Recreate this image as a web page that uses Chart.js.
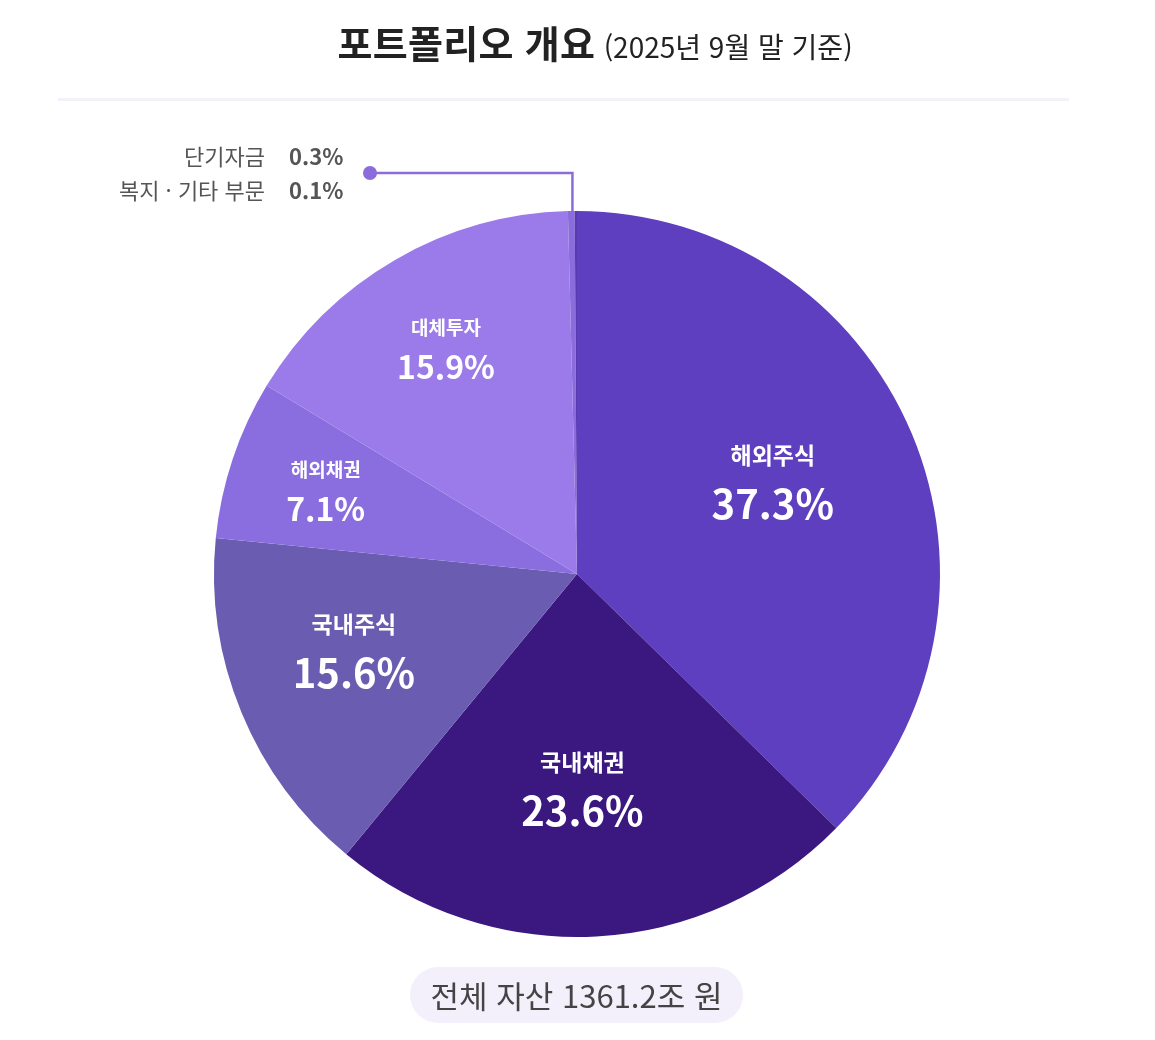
<!DOCTYPE html>
<html lang="ko">
<head>
<meta charset="utf-8">
<script src="https://cdn.jsdelivr.net/npm/chart.js@4.4.1/dist/chart.umd.min.js"></script>
<style>
  html, body { margin: 0; padding: 0; background: #fff; }
  body { width: 1155px; height: 1040px; position: relative; overflow: hidden;
         font-family: "Noto Sans CJK KR", "Noto Sans", sans-serif; }
  #wrap { position: absolute; left: 0; top: 0; width: 1155px; height: 1040px; }
  #title { position: absolute; top: 14px; left: 0; width: 1190px; text-align: center;
           color: #222; white-space: nowrap; }
  #title .main { font-size: 38px; font-weight: 700; letter-spacing: 0.3px; }
  #title .sub { font-size: 28px; font-weight: 400; letter-spacing: 0px; margin-left: 4px; }
  #sep { position: absolute; left: 58px; top: 98px; width: 1011px; height: 3px; background: #f3f1fa; }
  .note { position: absolute; font-size: 22px; color: #555; white-space: nowrap; }
  .note .n { position: absolute; right: 890px; }
  .note .v { position: absolute; left: 289px; font-weight: 700; }
  #pill { position: absolute; left: 410px; top: 967px; width: 333px; height: 56px; border-radius: 28px;
          background: #f3f0fc; color: #444; font-size: 31px; text-align: center; line-height: 56px;
          letter-spacing: 0px; }
</style>
</head>
<body>
<div id="wrap"><canvas id="c" width="1155" height="1040"></canvas></div>
<div id="title"><span class="main">포트폴리오 개요</span> <span class="sub">(2025년 9월 말 기준)</span></div>
<div id="sep"></div>
<div id="pill"></div>
<script>
const categories = ["해외주식", "국내채권", "국내주식", "해외채권", "대체투자", "단기자금", "복지 · 기타 부문"];
const shares = [37.3, 23.6, 15.6, 7.1, 15.9, 0.3, 0.1];
const sliceColors = ["#5d3fbf", "#3a1880", "#6a5db1", "#8a6ee0", "#9b7be9", "#8a6cdc", "#5a38b4"];
const totalAssetsLabel = "전체 자산 1361.2조 원";
const smallSliceIndexes = [5, 6];

document.getElementById('pill').textContent = totalAssetsLabel;
smallSliceIndexes.forEach((idx, k) => {
  const row = document.createElement('div');
  row.className = 'note';
  row.style.top = (139 + k * 34) + 'px';
  row.style.left = '0px';
  row.style.width = '1155px';
  const n = document.createElement('span'); n.className = 'n'; n.textContent = categories[idx];
  const v = document.createElement('span'); v.className = 'v'; v.textContent = shares[idx].toFixed(1) + '%';
  row.appendChild(n); row.appendChild(v);
  document.body.appendChild(row);
});

// label style per slice (radius fraction, offsets, name font px, value font px)
const labelStyle = [
  { r: 0.60, ox: -5, oy: -10, nf: 23, vf: 40 },
  { r: 0.59, ox: -6, oy: -1, nf: 23, vf: 40 },
  { r: 0.65, ox: -5, oy: -15, nf: 23, vf: 40 },
  { r: 0.73, ox: 0, oy: 0, nf: 19, vf: 32 },
  { r: 0.72, ox: 0, oy: 0, nf: 19, vf: 32 }
];

const sliceLabels = {
  id: 'sliceLabels',
  afterDatasetsDraw(chart) {
    const ctx = chart.ctx;
    const meta = chart.getDatasetMeta(0);
    ctx.save();
    meta.data.forEach((arc, i) => {
      const st = labelStyle[i];
      if (!st) return;
      const p = arc.getProps(['x', 'y', 'startAngle', 'endAngle', 'outerRadius'], true);
      const mid = (p.startAngle + p.endAngle) / 2;
      const rr = p.outerRadius * st.r;
      const cx = p.x + Math.cos(mid) * rr + st.ox;
      const cy = p.y + Math.sin(mid) * rr + st.oy;
      ctx.fillStyle = '#ffffff';
      ctx.textAlign = 'center';
      ctx.textBaseline = 'middle';
      ctx.font = '700 ' + st.nf + 'px "Noto Sans CJK KR", sans-serif';
      ctx.fillText(categories[i], cx, cy - st.vf * 0.62);
      ctx.font = '600 ' + st.vf + 'px "Noto Sans CJK KR", sans-serif';
      ctx.fillText(shares[i].toFixed(1) + '%', cx, cy + st.vf * 0.6);
    });
    // leader line for the small slices
    const a = meta.data[smallSliceIndexes[0]].getProps(['x', 'y', 'startAngle', 'endAngle', 'outerRadius'], true);
    const b = meta.data[smallSliceIndexes[smallSliceIndexes.length - 1]].getProps(['endAngle'], true);
    const ang = (a.startAngle + b.endAngle) / 2;
    const sx = a.x + Math.cos(ang) * a.outerRadius;
    const sy = a.y + Math.sin(ang) * a.outerRadius;
    const ly = sy - 38;
    const dotX = 370;
    ctx.strokeStyle = '#8a6ddb';
    ctx.lineWidth = 2.5;
    ctx.beginPath();
    ctx.moveTo(sx, sy);
    ctx.lineTo(sx, ly);
    ctx.lineTo(dotX, ly);
    ctx.stroke();
    ctx.fillStyle = '#8a6ddb';
    ctx.beginPath();
    ctx.arc(dotX, ly, 7, 0, Math.PI * 2);
    ctx.fill();
    ctx.restore();
  }
};

new Chart(document.getElementById('c'), {
  type: 'pie',
  data: {
    labels: categories,
    datasets: [{ data: shares, backgroundColor: sliceColors, borderWidth: 0 }]
  },
  options: {
    responsive: false,
    animation: false,
    layout: { padding: { top: 211, bottom: 103, left: 214, right: 215 } },
    plugins: { legend: { display: false }, tooltip: { enabled: false } }
  },
  plugins: [sliceLabels]
});
</script>
</body>
</html>
